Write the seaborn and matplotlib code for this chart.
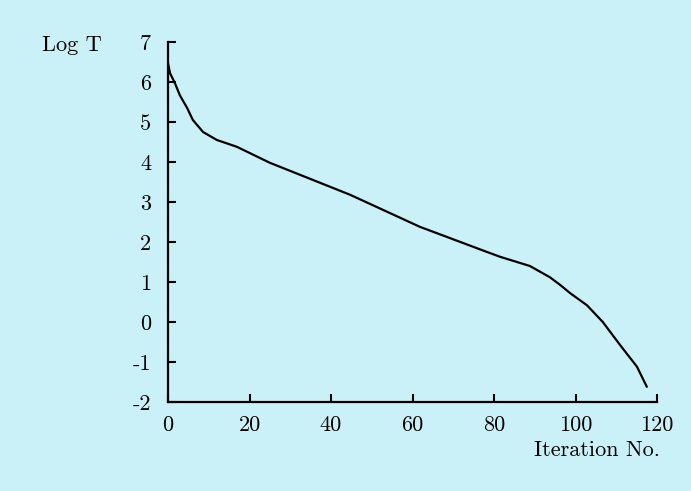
import matplotlib
matplotlib.use("Agg")
import matplotlib.pyplot as plt
import seaborn as sns
import pandas as pd

# values
iteration = [0, 0.5, 1.7, 2.9, 4.7, 6.1, 8.6, 12.0, 16.9, 25, 44.7, 61.8, 78.3, 81.5,
             88.8, 93.7, 96.2, 98.7, 102.8, 106.7, 110.9, 115.1, 117.5]
log_t = [6.47, 6.22, 5.97, 5.67, 5.35, 5.05, 4.75, 4.55, 4.38, 3.98, 3.18, 2.38, 1.75, 1.63,
         1.4, 1.12, 0.93, 0.72, 0.42, 0.0, -0.57, -1.12, -1.62]
x_ticks = [0, 20, 40, 60, 80, 100, 120]
y_ticks = [-2, -1, 0, 1, 2, 3, 4, 5, 6, 7]

bg = '#cbf1f8'

sns.set_style("white")
plt.rcParams['font.family'] = ['cmr10', 'DejaVu Serif']
plt.rcParams['axes.unicode_minus'] = False
plt.rcParams['text.color'] = 'black'
plt.rcParams['axes.labelcolor'] = 'black'

df = pd.DataFrame({'iter': iteration, 'logt': log_t})

fig = plt.figure(figsize=(6.91, 4.91), dpi=100, facecolor=bg)
ax = fig.add_axes([168 / 691, 89 / 491, 489 / 691, 360 / 491])
ax.set_facecolor(bg)

sns.lineplot(data=df, x='iter', y='logt', ax=ax, color='black', linewidth=1.6)

ax.set_xlim(0, 120)
ax.set_ylim(-2, 7)
ax.set_xticks(x_ticks)
ax.set_yticks(y_ticks)
ax.tick_params(bottom=True, left=True, direction='in', length=6, width=1.5,
               colors='black', labelcolor='black', labelsize=16)
ax.tick_params(axis='y', pad=12)
ax.tick_params(axis='x', pad=10)
ax.spines['top'].set_visible(False)
ax.spines['right'].set_visible(False)
for s in ['left', 'bottom']:
    ax.spines[s].set_linewidth(1.6)
    ax.spines[s].set_color('black')

ax.set_ylabel('Log T', rotation=0, fontsize=16, ha='center', va='center')
ax.yaxis.set_label_coords(-0.196, 0.99)
ax.set_xlabel('Iteration No.', fontsize=16, ha='center', va='center')
ax.xaxis.set_label_coords(0.877, -0.133)

plt.savefig('out.png', dpi=100, facecolor=bg)
